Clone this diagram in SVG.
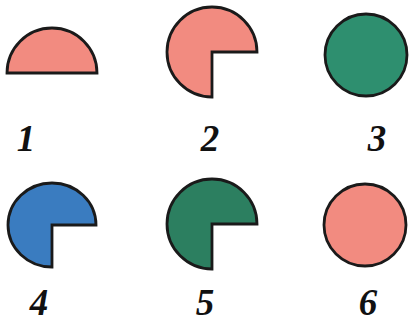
<svg xmlns="http://www.w3.org/2000/svg" width="416" height="327" viewBox="0 0 416 327">
<style>
.s{stroke:#1a1a1a;stroke-width:2.8;stroke-linejoin:miter}
.pink{fill:#F28B80}
.green{fill:#2E8F6F}
.dgreen{fill:#2C7F60}
.blue{fill:#3A7CC0}
.lbl{font-family:"Liberation Serif","Times New Roman",serif;font-style:italic;font-weight:bold;font-size:37px;fill:#111;text-anchor:middle}
</style>
<rect width="416" height="327" fill="#fff"/>
<g id="fig1">
<path class="s pink" d="M7,73 A45,45 0 0 1 97,73 Z"/>
<text class="lbl" x="26" y="151">1</text>
</g>
<g id="fig2">
<path class="s pink" d="M257,52 L212,52 L212,97 A45,45 0 1 1 257,52 Z"/>
<text class="lbl" x="210" y="151">2</text>
</g>
<g id="fig3">
<circle class="s green" cx="366" cy="55" r="41"/>
<text class="lbl" x="377" y="151">3</text>
</g>
<g id="fig4">
<path class="s blue" d="M96,225 L52,225 L52,267 A44,42 0 1 1 96,225 Z"/>
<text class="lbl" x="39" y="315">4</text>
</g>
<g id="fig5">
<path class="s dgreen" d="M257,224 L212,224 L212,269 A45,45 0 1 1 257,224 Z"/>
<text class="lbl" x="205" y="315">5</text>
</g>
<g id="fig6">
<circle class="s pink" cx="365" cy="225" r="41"/>
<text class="lbl" x="368" y="315">6</text>
</g>
</svg>
